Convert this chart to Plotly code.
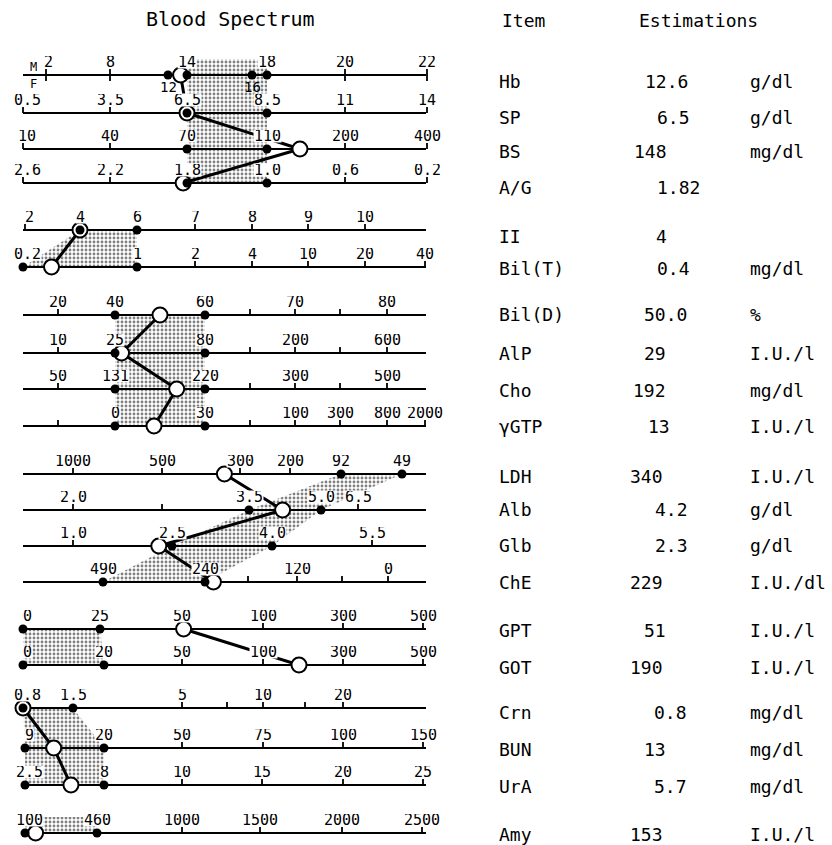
import plotly.graph_objects as go

# ---------------- DATA ----------------
title = "Blood Spectrum"
header_item = "Item"
header_est = "Estimations"

items = ["Hb", "SP", "BS", "A/G", "II", "Bil(T)", "Bil(D)", "AlP", "Cho", "γGTP",
         "LDH", "Alb", "Glb", "ChE", "GPT", "GOT", "Crn", "BUN", "UrA", "Amy"]
est_text = ["12.6", "6.5", "148", "1.82", "4", "0.4", "50.0", "29", "192", "13",
            "340", "4.2", "2.3", "229", "51", "190", "0.8", "13", "5.7", "153"]
values = [12.6, 6.5, 148, 1.82, 4, 0.4, 50.0, 29, 192, 13,
          340, 4.2, 2.3, 229, 51, 190, 0.8, 13, 5.7, 153]
units = ["g/dl", "g/dl", "mg/dl", "", "", "mg/dl", "%", "I.U./l", "mg/dl", "I.U./l",
         "I.U./l", "g/dl", "g/dl", "I.U./dl", "I.U./l", "I.U./l", "mg/dl", "mg/dl", "mg/dl", "I.U./l"]

groups = [["Hb", "SP", "BS", "A/G"], ["II", "Bil(T)"], ["Bil(D)", "AlP", "Cho", "γGTP"],
          ["LDH", "Alb", "Glb", "ChE"], ["GPT", "GOT"], ["Crn", "BUN", "UrA"], ["Amy"]]

# scale tick values (labelled) for each item
scale_vals = {
    "Hb": [2, 8, 14, 18, 20, 22],
    "Hb_F": [12, 16],
    "SP": [0.5, 3.5, 6.5, 8.5, 11, 14],
    "BS": [10, 40, 70, 110, 200, 400],
    "A/G": [2.6, 2.2, 1.8, 1.0, 0.6, 0.2],
    "II": [2, 4, 6, 7, 8, 9, 10],
    "Bil(T)": [0.2, 1, 2, 4, 10, 20, 40],
    "Bil(D)": [20, 40, 60, 70, 80],
    "AlP": [10, 25, 80, 200, 600],
    "Cho": [50, 131, 220, 300, 500],
    "γGTP": [0, 30, 100, 300, 800, 2000],
    "LDH": [1000, 500, 300, 200, 92, 49],
    "Alb": [2.0, 3.5, 5.0, 6.5],
    "Glb": [1.0, 2.5, 4.0, 5.5],
    "ChE": [490, 240, 120, 0],
    "GPT": [0, 25, 50, 100, 300, 500],
    "GOT": [0, 20, 50, 100, 300, 500],
    "Crn": [0.8, 1.5, 5, 10, 20],
    "BUN": [9, 20, 50, 75, 100, 150],
    "UrA": [2.5, 8, 10, 15, 20, 25],
    "Amy": [100, 460, 1000, 1500, 2000, 2500],
}
scale_text = {
    "Hb": ["2", "8", "14", "18", "20", "22"],
    "Hb_F": ["12", "16"],
    "SP": ["0.5", "3.5", "6.5", "8.5", "11", "14"],
    "BS": ["10", "40", "70", "110", "200", "400"],
    "A/G": ["2.6", "2.2", "1.8", "1.0", "0.6", "0.2"],
    "II": ["2", "4", "6", "7", "8", "9", "10"],
    "Bil(T)": ["0.2", "1", "2", "4", "10", "20", "40"],
    "Bil(D)": ["20", "40", "60", "70", "80"],
    "AlP": ["10", "25", "80", "200", "600"],
    "Cho": ["50", "131", "220", "300", "500"],
    "γGTP": ["0", "30", "100", "300", "800", "2000"],
    "LDH": ["1000", "500", "300", "200", "92", "49"],
    "Alb": ["2.0", "3.5", "5.0", "6.5"],
    "Glb": ["1.0", "2.5", "4.0", "5.5"],
    "ChE": ["490", "240", "120", "0"],
    "GPT": ["0", "25", "50", "100", "300", "500"],
    "GOT": ["0", "20", "50", "100", "300", "500"],
    "Crn": ["0.8", "1.5", "5", "10", "20"],
    "BUN": ["9", "20", "50", "75", "100", "150"],
    "UrA": ["2.5", "8", "10", "15", "20", "25"],
    "Amy": ["100", "460", "1000", "1500", "2000", "2500"],
}
# normal ranges
normal_range = {
    "Hb": (14, 18), "Hb_F": (12, 16), "SP": (6.5, 8.5), "BS": (70, 110), "A/G": (1.8, 1.0),
    "II": (4, 6), "Bil(T)": (0.2, 1), "Bil(D)": (40, 60), "AlP": (25, 80), "Cho": (131, 220),
    "γGTP": (0, 30), "LDH": (92, 49), "Alb": (3.5, 5.0), "Glb": (2.5, 4.0), "ChE": (490, 240),
    "GPT": (0, 25), "GOT": (0, 20), "Crn": (0.8, 1.5), "BUN": (9, 20), "UrA": (2.5, 8),
    "Amy": (100, 460),
}
value_scale = {"Hb": "Hb_F"}  # patient is female

# ---------------- LAYOUT (pixel geometry of the nomogram) ----------------
scale_pos = {
    "Hb": [46, 110, 187, 267, 345, 427],
    "Hb_F": [168, 252],
    "SP": [23, 110, 187, 267, 345, 427],
    "BS": [23, 110, 187, 267, 345, 427],
    "A/G": [23, 110, 187, 267, 345, 427],
    "II": [25, 80, 137, 195, 252, 308, 365],
    "Bil(T)": [23, 137, 195, 252, 308, 365, 425],
    "Bil(D)": [58, 115, 205, 295, 387],
    "AlP": [58, 115, 205, 295, 387],
    "Cho": [58, 115, 205, 295, 387],
    "γGTP": [115, 205, 295, 340, 387, 425],
    "LDH": [73, 162, 240, 290, 341, 402],
    "Alb": [73, 249, 321, 358],
    "Glb": [73, 172, 272, 372],
    "ChE": [103, 205, 297, 388],
    "GPT": [23, 100, 182, 263, 343, 423],
    "GOT": [23, 104, 182, 263, 343, 423],
    "Crn": [23, 73, 182, 263, 343],
    "BUN": [25, 104, 182, 263, 343, 423],
    "UrA": [25, 104, 182, 262, 343, 423],
    "Amy": [25, 97, 182, 260, 342, 422],
}
minor_pos = {
    "Bil(D)": [250, 340], "AlP": [250, 340], "Cho": [250, 340], "γGTP": [58, 250],
    "Alb": [162], "ChE": [248, 342], "Crn": [227, 305],
}
row_y = {
    "Hb": 75, "SP": 113, "BS": 149, "A/G": 183, "II": 230, "Bil(T)": 267,
    "Bil(D)": 315, "AlP": 353, "Cho": 389, "γGTP": 426, "LDH": 474, "Alb": 510,
    "Glb": 546, "ChE": 582, "GPT": 629, "GOT": 665, "Crn": 708, "BUN": 748,
    "UrA": 785, "Amy": 833,
}
table_y = [81, 117, 151, 187, 236, 268, 314, 353, 390, 426,
           476, 509, 545, 582, 630, 667, 712, 749, 786, 834]
value_x = [643, 655, 632, 655, 654, 655, 642, 642, 631, 646,
           628, 653, 653, 628, 642, 628, 652, 642, 652, 628]
line_x0, line_x1 = 23, 426
cap_rows = ["Hb", "Amy"]

FONT = "DejaVu Sans Mono"


def to_x(scale, v):
    pairs = sorted(zip(scale_vals[scale], scale_pos[scale]))
    vs = [p[0] for p in pairs]
    ps = [p[1] for p in pairs]
    if v <= vs[0]:
        i = 0
    elif v >= vs[-1]:
        i = len(vs) - 2
    else:
        i = max(j for j in range(len(vs) - 1) if vs[j] <= v)
    return ps[i] + (v - vs[i]) / (vs[i + 1] - vs[i]) * (ps[i + 1] - ps[i])


fig = go.Figure()

# stipple (normal-range bands)
for g in groups:
    left, right = [], []
    for it in g:
        lo, hi = normal_range[it]
        a, b = sorted([to_x(it, lo), to_x(it, hi)])
        y = row_y[it]
        if it in cap_rows:
            left.append((a, y - 16))
            right.append((b, y - 16))
        left.append((a, y))
        right.append((b, y))
    poly = left + right[::-1]
    fig.add_trace(go.Scatter(
        x=[p[0] for p in poly] + [poly[0][0]], y=[p[1] for p in poly] + [poly[0][1]],
        mode="lines", fill="toself", line=dict(width=0, color="rgba(0,0,0,0)"),
        fillcolor="white",
        fillpattern=dict(shape=".", size=4, solidity=0.4, fgcolor="black", bgcolor="white"),
        hoverinfo="skip", showlegend=False))

# scale lines
lx, ly = [], []
for it in items:
    lx += [line_x0, line_x1, None]
    ly += [row_y[it], row_y[it], None]
fig.add_trace(go.Scatter(x=lx, y=ly, mode="lines", line=dict(color="black", width=2),
                         hoverinfo="skip", showlegend=False))

# ticks
tx, ty = [], []
for it in items:
    y = row_y[it]
    dot_vals = set(normal_range[it])
    up, down = (6, 6) if it == "Hb" else (6, 0)
    for v, p in zip(scale_vals[it], scale_pos[it]):
        if v in dot_vals:
            continue
        tx += [p, p, None]
        ty += [y - up, y + down, None]
    for p in minor_pos.get(it, []):
        tx += [p, p, None]
        ty += [y - 6, y, None]
fig.add_trace(go.Scatter(x=tx, y=ty, mode="lines", line=dict(color="black", width=1.8),
                         hoverinfo="skip", showlegend=False))

# patient value positions
val_of = dict(zip(items, values))
px = {it: to_x(value_scale.get(it, it), val_of[it]) for it in items}

# connecting lines
for g in groups:
    if len(g) < 2:
        continue
    fig.add_trace(go.Scatter(x=[px[it] for it in g], y=[row_y[it] for it in g], mode="lines",
                             line=dict(color="black", width=3), hoverinfo="skip", showlegend=False))

# open circles (patient values)
fig.add_trace(go.Scatter(x=[px[it] for it in items], y=[row_y[it] for it in items], mode="markers",
                         marker=dict(size=15, color="white", line=dict(color="black", width=2)),
                         hoverinfo="skip", showlegend=False))

# normal-range end dots
dx, dy = [], []
for sc, (lo, hi) in normal_range.items():
    base = "Hb" if sc == "Hb_F" else sc
    for v in (lo, hi):
        dx.append(to_x(sc, v))
        dy.append(row_y[base])
fig.add_trace(go.Scatter(x=dx, y=dy, mode="markers", marker=dict(size=9, color="black"),
                         hoverinfo="skip", showlegend=False))

ann = []
# tick labels
for sc in scale_vals:
    base = "Hb" if sc == "Hb_F" else sc
    below = sc == "Hb_F"
    y = row_y[base] + (12 if below else -13)
    for t, p in zip(scale_text[sc], scale_pos[sc]):
        xx = p + 4 if p < 30 else p
        if sc == "Hb" and t == "2":
            xx = p + 2
        ann.append(dict(x=xx, y=y, text=t, showarrow=False, xanchor="center", yanchor="middle",
                        font=dict(family=FONT, size=14 if below else 15, color="black"),
                        bgcolor="white" if not below else "rgba(0,0,0,0)",
                        borderpad=0, height=10 if below else 12))
# M / F markers
ann.append(dict(x=33, y=67, text="M", showarrow=False, height=10,
                font=dict(family=FONT, size=12, color="black")))
ann.append(dict(x=33, y=84, text="F", showarrow=False, height=10,
                font=dict(family=FONT, size=12, color="black")))

# title and headers
ann.append(dict(x=230, y=19, text=title, showarrow=False, font=dict(family=FONT, size=20, color="black")))
ann.append(dict(x=500, y=20, text=header_item, showarrow=False, xanchor="left",
                font=dict(family=FONT, size=18, color="black")))
ann.append(dict(x=637, y=20, text=header_est, showarrow=False, xanchor="left",
                font=dict(family=FONT, size=18, color="black")))

# table
for i, it in enumerate(items):
    f = dict(family=FONT, size=18, color="black")
    ann.append(dict(x=497, y=table_y[i], text=it, showarrow=False, xanchor="left", font=f))
    ann.append(dict(x=value_x[i], y=table_y[i], text=est_text[i], showarrow=False, xanchor="left", font=f))
    if units[i]:
        ann.append(dict(x=748, y=table_y[i], text=units[i], showarrow=False, xanchor="left", font=f))

fig.update_layout(
    width=832, height=845, margin=dict(l=0, r=0, t=0, b=0),
    paper_bgcolor="white", plot_bgcolor="white",
    xaxis=dict(range=[0, 832], visible=False, fixedrange=True),
    yaxis=dict(range=[845, 0], visible=False, fixedrange=True),
    annotations=ann, showlegend=False,
)
fig.write_html("out.html", config={"displayModeBar": False},
               post_script="document.body.style.margin='0';document.body.style.overflow='hidden';")
